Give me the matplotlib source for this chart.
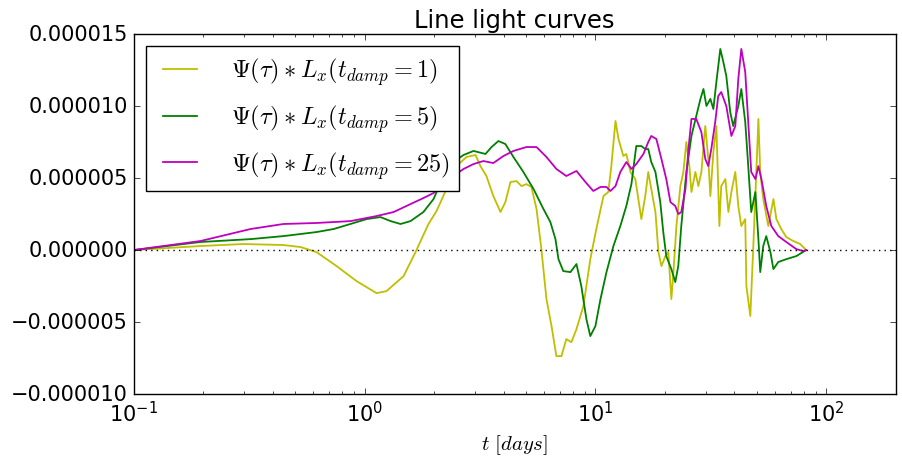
import numpy as np
import matplotlib
matplotlib.use("Agg")
import matplotlib.pyplot as plt

plt.style.use('classic')

# log10(t in days), flux in units of 1e-6
logt_1 = [-1.0, -0.71, -0.524, -0.351, -0.277, -0.208, -0.121, -0.035, 0.052, 0.095, 0.169, 0.221, 0.277, 0.312,
          0.355, 0.398, 0.442, 0.481, 0.502, 0.528, 0.558, 0.589, 0.610, 0.632, 0.658, 0.680, 0.701, 0.723, 0.745,
          0.766, 0.788, 0.810, 0.831, 0.853, 0.874, 0.896, 0.918, 0.948, 0.978, 1.004, 1.035, 1.056, 1.069, 1.087,
          1.100, 1.121, 1.134, 1.152, 1.173, 1.186, 1.199, 1.216, 1.229, 1.242, 1.260, 1.273, 1.286, 1.303, 1.316,
          1.329, 1.338, 1.351, 1.368, 1.381, 1.394, 1.407, 1.416, 1.433, 1.446, 1.459, 1.476, 1.489, 1.498, 1.511,
          1.524, 1.537, 1.545, 1.563, 1.576, 1.589, 1.606, 1.619, 1.632, 1.649, 1.654, 1.671, 1.684, 1.697, 1.706,
          1.714, 1.727, 1.749, 1.771, 1.784, 1.805, 1.827, 1.857, 1.887, 1.913]
flux_1 = [0.0, 0.28, 0.42, 0.35, 0.21, -0.14, -1.11, -2.15, -2.99, -2.85, -1.81, -0.14, 1.81, 2.71,
          4.24, 5.83, 6.46, 6.60, 5.83, 5.14, 3.75, 2.64, 3.33, 4.72, 4.79, 4.44, 4.58, 4.38, 2.85,
          0.07, -3.40, -5.28, -7.36, -7.36, -6.18, -6.39, -5.49, -3.89, -0.63, 1.46, 3.75, 4.03, 5.83, 8.96,
          7.71, 6.53, 6.67, 5.42, 4.93, 3.54, 2.15, 3.75, 5.42, 4.24, 2.64, -0.14, -1.11, -0.42, -0.14,
          -3.40, -1.53, 1.67, 4.44, 5.42, 7.50, 5.83, 4.03, 5.42, 4.44, 5.42, 8.61, 6.32, 3.75, 6.81,
          8.61, 1.67, 4.44, 4.93, 2.64, 4.03, 5.42, 3.06, 1.67, 2.15, -2.50, -4.58, 0.28, 5.42, 9.10,
          5.42, 3.54, 1.67, 3.54, 2.15, 1.46, 0.90, 0.63, 0.42, 0.0]

logt_5 = [-1.0, -0.71, -0.494, -0.351, -0.208, -0.134, -0.061, 0.009, 0.069, 0.113, 0.156, 0.199, 0.255, 0.299,
          0.342, 0.385, 0.429, 0.472, 0.524, 0.550, 0.580, 0.610, 0.645, 0.688, 0.732, 0.775, 0.805, 0.827, 0.840,
          0.861, 0.892, 0.918, 0.939, 0.961, 0.978, 1.000, 1.022, 1.048, 1.078, 1.108, 1.134, 1.156, 1.177, 1.199,
          1.216, 1.229, 1.242, 1.260, 1.281, 1.294, 1.307, 1.329, 1.346, 1.359, 1.372, 1.394, 1.416, 1.437, 1.455,
          1.468, 1.481, 1.498, 1.511, 1.524, 1.541, 1.554, 1.567, 1.584, 1.597, 1.619, 1.632, 1.649, 1.662, 1.675,
          1.693, 1.706, 1.714, 1.727, 1.740, 1.758, 1.771, 1.792, 1.827, 1.870, 1.913]
flux_5 = [0.0, 0.56, 0.76, 0.97, 1.25, 1.46, 1.81, 2.15, 2.29, 2.01, 1.81, 2.01, 2.64, 3.54,
          5.14, 6.11, 6.60, 6.88, 6.67, 7.15, 7.57, 7.36, 6.46, 5.42, 4.24, 2.85, 1.94, 0.76, -0.63,
          -1.46, -1.53, -0.97, -2.50, -4.79, -5.97, -5.28, -3.40, -1.53, 0.28, 1.67, 3.06, 4.58, 7.22, 7.22,
          7.01, 7.01, 6.11, 5.42, 3.33, 1.25, -0.42, -1.32, -2.22, -1.11, 1.67, 5.42, 7.92, 9.31, 10.49,
          11.18, 10.00, 10.49, 9.79, 11.67, 13.96, 13.06, 12.08, 9.58, 8.61, 10.00, 11.18, 8.89, 5.83, 2.64,
          4.03, 0.76, -1.53, 0.28, 0.97, -0.14, -1.32, -0.83, -0.63, -0.42, 0.0]

logt_25 = [-1.0, -0.71, -0.494, -0.351, -0.208, -0.061, 0.052, 0.126, 0.199, 0.255, 0.299, 0.342, 0.385, 0.429,
           0.472, 0.515, 0.558, 0.602, 0.645, 0.701, 0.745, 0.788, 0.831, 0.874, 0.918, 0.957, 0.991, 1.022, 1.048,
           1.065, 1.087, 1.108, 1.134, 1.156, 1.177, 1.208, 1.229, 1.242, 1.264, 1.286, 1.307, 1.325, 1.346, 1.359,
           1.372, 1.390, 1.403, 1.416, 1.437, 1.459, 1.476, 1.489, 1.502, 1.519, 1.532, 1.545, 1.567, 1.589, 1.606,
           1.619, 1.632, 1.649, 1.662, 1.675, 1.693, 1.706, 1.719, 1.740, 1.762, 1.792, 1.827, 1.870, 1.900, 1.913]
flux_25 = [0.0, 0.63, 1.46, 1.81, 1.88, 2.01, 2.36, 2.64, 3.19, 3.61, 3.96, 4.51, 5.14, 5.63,
           5.97, 6.18, 6.04, 6.53, 6.88, 7.15, 7.15, 6.46, 5.63, 5.14, 5.49, 4.72, 4.10, 4.38, 4.38,
           4.10, 4.44, 5.42, 6.11, 5.63, 5.97, 6.67, 7.50, 7.92, 7.71, 6.32, 4.93, 3.33, 3.06, 2.50,
           2.64, 4.24, 7.01, 9.10, 9.10, 8.19, 6.32, 5.83, 7.01, 8.89, 10.69, 10.97, 10.00, 7.92, 8.61,
           11.88, 13.96, 12.36, 8.89, 5.42, 4.93, 5.83, 4.93, 3.06, 1.67, 0.97, 0.56, 0.07, -0.07, 0.0]

labels = [r'$\Psi(\tau) * L_x(t_{damp}=1)$',
          r'$\Psi(\tau) * L_x(t_{damp}=5)$',
          r'$\Psi(\tau) * L_x(t_{damp}=25)$']
colors = ['y', 'g', 'm']

fig = plt.figure(figsize=(9.03, 4.6), dpi=100)
fig.patch.set_facecolor('white')
ax = fig.add_axes([0.148, 0.141, 0.844, 0.783])

for lt, fl, lab, c in zip([logt_1, logt_5, logt_25], [flux_1, flux_5, flux_25], labels, colors):
    ax.plot(10 ** np.array(lt), np.array(fl) * 1e-6, color=c, lw=1.3, label=lab)

ax.axhline(0, color='k', ls=':')
ax.set_xscale('log')
ax.set_xlim(0.1, 200)
ax.set_ylim(-1e-5, 1.5e-5)
ax.tick_params(labelsize=15)
ax.set_title('Line light curves', fontsize=17.5)
ax.set_xlabel(r'$t\ [days]$', fontsize=15)
ax.legend(loc='upper left', fontsize=17.5, handletextpad=1.1, labelspacing=0.62)

fig.savefig('out.png', dpi=100)
